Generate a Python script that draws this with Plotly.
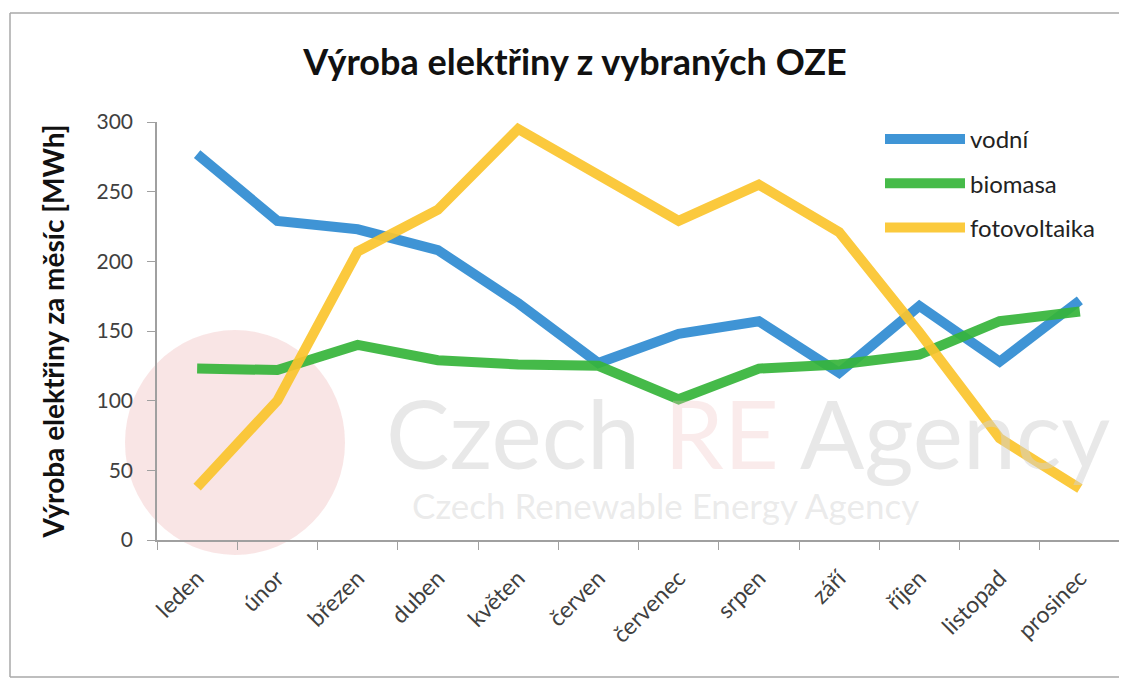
import plotly.graph_objects as go

months = ["leden", "únor", "březen", "duben", "květen", "červen",
          "červenec", "srpen", "září", "říjen", "listopad", "prosinec"]
vodni = [277, 229, 223, 208, 170, 127, 148, 157, 120, 168, 128, 172]
biomasa = [123, 122, 140, 129, 126, 125, 101, 123, 126, 133, 157, 164]
fotovoltaika = [38, 100, 207, 237, 295, 262, 229, 255, 221, 149, 73, 37]

series = [("vodní", vodni, "#2f8cd2"),
          ("biomasa", biomasa, "#36b53a"),
          ("fotovoltaika", fotovoltaika, "#fbc52d")]

FONT = "Lato"

# page coordinates helpers (reference-image pixels -> paper coords)
PL, PR, PT, PB = 157, 1120, 122, 540
def px(x):
    return (x - PL) / (PR - PL)
def py(y):
    return (PB - y) / (PB - PT)

fig = go.Figure()
for i, (name, vals, col) in enumerate(series):
    fig.add_trace(go.Scatter(x=months, y=vals, name=name, mode="lines",
                             line=dict(color=col, width=10),
                             opacity=0.92, legendgroup=f"g{i}"))

# watermark (background decoration)
fig.add_shape(type="circle", xref="paper", yref="paper", layer="below",
              x0=px(125), x1=px(345), y0=py(555), y1=py(330),
              fillcolor="rgba(236,170,170,0.30)", line=dict(width=0))
fig.add_annotation(xref="paper", yref="paper", x=px(748), y=py(432),
                   xanchor="center", yanchor="middle",
                   text="Czech <span style='color:rgba(240,190,190,0.6)'>RE</span> Agency",
                   showarrow=False, font=dict(family=FONT, size=95, color="rgba(210,210,210,0.5)"))
fig.add_annotation(xref="paper", yref="paper", x=px(665), y=py(505),
                   xanchor="center", yanchor="middle",
                   text="Czech Renewable Energy Agency",
                   showarrow=False, font=dict(family=FONT, size=35, color="rgba(210,210,210,0.45)"))

# outer frame (left, top, bottom edges)
frame_line = dict(color="#a8a8a8", width=1.5)
fig.add_shape(type="line", xref="paper", yref="paper", layer="below",
              x0=px(10), x1=px(10), y0=py(677), y1=py(13), line=frame_line)
fig.add_shape(type="line", xref="paper", yref="paper", layer="below",
              x0=px(10), x1=px(1400), y0=py(13), y1=py(13), line=frame_line)
fig.add_shape(type="line", xref="paper", yref="paper", layer="below",
              x0=px(10), x1=px(1400), y0=py(677), y1=py(677), line=frame_line)

fig.update_layout(
    width=1119, height=676,
    margin=dict(l=PL - 8, r=1119 - (PR - 8), t=PT - 8, b=676 - (PB - 8)),
    paper_bgcolor="white", plot_bgcolor="rgba(0,0,0,0)",
    font=dict(family=FONT, size=21, color="#404040"),
    title=dict(text="<b>Výroba elektřiny z vybraných OZE</b>", x=(575 - 8) / 1119, xanchor="center",
               y=1 - (62 - 8) / 676, yanchor="middle",
               font=dict(family=FONT, size=36, color="#111111")),
    showlegend=True,
    legend=dict(x=px(880), y=py(117), xanchor="left", yanchor="top",
                bgcolor="rgba(0,0,0,0)", tracegroupgap=10, itemwidth=80,
                font=dict(family=FONT, size=24, color="#222222")),
    xaxis=dict(type="category", range=[-0.5, 11.5], showgrid=False,
               showline=True, linecolor="#a0a0a0", linewidth=1.5,
               ticks="outside", tickson="boundaries", ticklen=8, tickcolor="#a0a0a0",
               ticklabelstandoff=14,
               tickangle=-45, tickfont=dict(size=23, color="#404040")),
    yaxis=dict(range=[0, 300], tickvals=[0, 50, 100, 150, 200, 250, 300], showgrid=False,
               showline=True, linecolor="#a0a0a0", linewidth=1.5,
               ticks="outside", ticklen=8, tickcolor="#a0a0a0", zeroline=False,
               ticklabelstandoff=10,
               tickfont=dict(size=21, color="#404040"),
               title=dict(text="<b>Výroba elektřiny za měsíc [MWh]</b>", standoff=24,
                          font=dict(family=FONT, size=28, color="#111111"))),
)

fig.write_html("out.html")
